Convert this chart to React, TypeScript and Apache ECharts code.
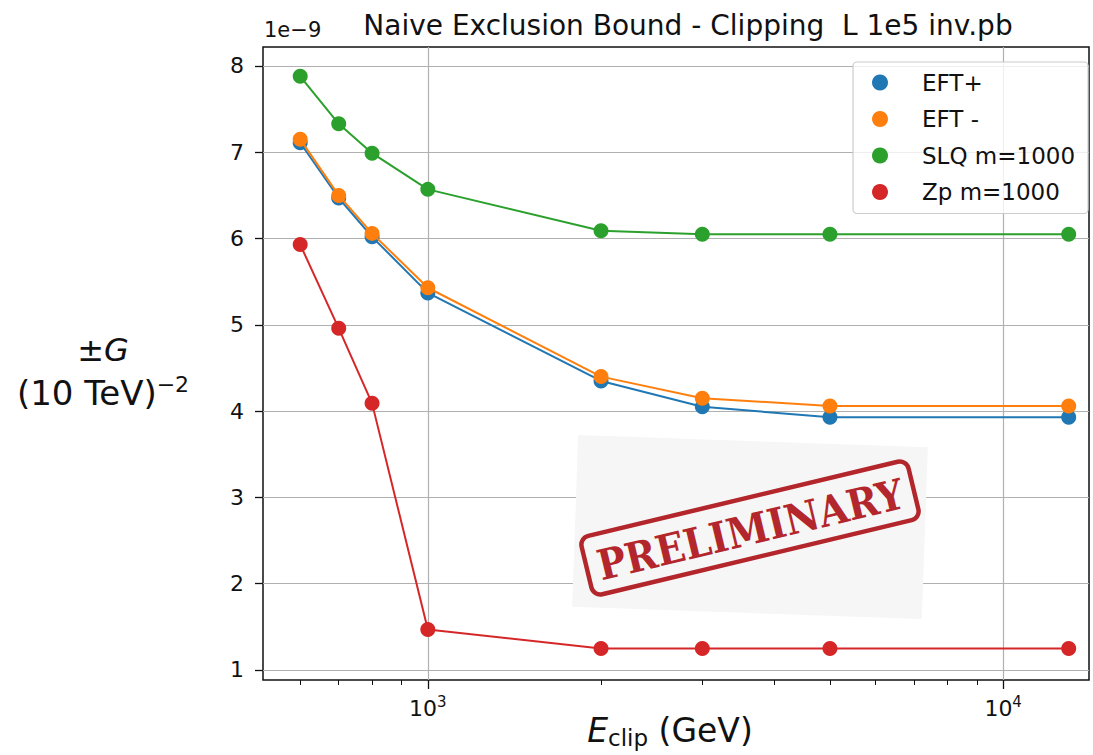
import React, { useEffect, useRef } from 'react';
import * as echarts from 'echarts';

// ---- data (values in units of 1e-9) ----
const energies = [600, 700, 800, 1000, 2000, 3000, 5000, 13000];
const eftPlus = [7.11, 6.47, 6.02, 5.37, 4.35, 4.05, 3.93, 3.93];
const eftMinus = [7.15, 6.5, 6.06, 5.43, 4.4, 4.15, 4.06, 4.06];
const slq = [7.88, 7.33, 6.99, 6.57, 6.09, 6.05, 6.05, 6.05];
const zp = [5.93, 4.96, 4.09, 1.47, 1.25, 1.25, 1.25, 1.25];
const seriesNames = ['EFT+', 'EFT -', 'SLQ m=1000', 'Zp m=1000'];
const seriesValues = [eftPlus, eftMinus, slq, zp];
const colors = ['#1f77b4', '#ff7f0e', '#2ca02c', '#d62728'];
const yTicks = [1, 2, 3, 4, 5, 6, 7, 8];
const xMajorTicks = [1000, 10000];
const xMinorTicks = [600, 700, 800, 900, 2000, 3000, 4000, 5000, 6000, 7000, 8000, 9000];
const titleText = 'Naive Exclusion Bound - Clipping  L 1e5 inv.pb';

const X_MIN = 517;
const X_MAX = 14100;
const Y_MIN = 0.884;
const Y_MAX = 8.22;

export default function App() {
  const ref = useRef<HTMLDivElement>(null);
  useEffect(() => {
    if (!ref.current) return;
    const chart = echarts.init(ref.current, null, { renderer: 'svg' });
    const font = 'DejaVu Sans';
    const series: any[] = seriesNames.map((name, i) => ({
      name,
      type: 'line',
      data: energies.map((e, j) => [e, seriesValues[i][j]]),
      symbol: 'circle',
      symbolSize: 15,
      showSymbol: true,
      lineStyle: { color: colors[i], width: 2 },
      itemStyle: { color: colors[i] },
      z: 3 + i,
    }));
    chart.setOption({
      animation: false,
      backgroundColor: '#fff',
      title: {
        text: titleText,
        left: 683,
        textAlign: 'center',
        top: 6,
        textStyle: { fontFamily: font, fontWeight: 'normal', fontSize: 28, color: '#111' },
      },
      legend: {
        data: seriesNames,
        orient: 'vertical',
        left: 853,
        top: 62,
        icon: 'circle',
        itemWidth: 30,
        itemHeight: 16,
        itemGap: 13.5,
        padding: [9, 13, 10, 19],
        backgroundColor: 'rgba(255,255,255,0.8)',
        borderColor: '#cccccc',
        borderWidth: 1.2,
        borderRadius: 4,
        textStyle: { fontFamily: font, fontSize: 23, color: '#111', lineHeight: 23, padding: [0, 0, 0, 22] },
      },
      grid: {
        left: 263,
        top: 47,
        right: 4,
        bottom: 75,
        show: true,
        borderColor: '#111',
        borderWidth: 1.5,
        backgroundColor: 'transparent',
      },
      xAxis: [
        {
          type: 'log',
          logBase: 10,
          min: X_MIN,
          max: X_MAX,
          position: 'bottom',
          axisLine: { show: false },
          axisTick: { show: true, customValues: xMajorTicks, length: 9, lineStyle: { color: '#111', width: 1.3 } },
          axisLabel: {
            customValues: xMajorTicks,
            margin: 14,
            fontFamily: font,
            fontSize: 22,
            color: '#111',
            formatter: (v: number) => '10{sup|' + Math.round(Math.log10(v)) + '}',
            rich: {
              sup: { fontSize: 15, lineHeight: 28, verticalAlign: 'top', fontFamily: font, color: '#111' },
            },
            lineHeight: 28,
          },
          splitLine: { show: true, lineStyle: { color: '#b0b0b0', width: 1.2 } },
        },
        {
          type: 'log',
          logBase: 10,
          min: X_MIN,
          max: X_MAX,
          position: 'bottom',
          axisLine: { show: false },
          axisTick: { show: true, customValues: xMinorTicks, length: 5, lineStyle: { color: '#111', width: 1 } },
          axisLabel: { show: false },
          splitLine: { show: false },
        },
      ],
      yAxis: {
        type: 'value',
        min: Y_MIN,
        max: Y_MAX,
        axisLine: { show: false },
        axisTick: { show: true, customValues: yTicks, length: 8, lineStyle: { color: '#111', width: 1.3 } },
        axisLabel: { customValues: yTicks, margin: 19, fontFamily: font, fontSize: 22, color: '#111' },
        splitLine: { show: true, lineStyle: { color: '#b0b0b0', width: 1.2 } },
      },
      graphic: [
        {
          type: 'text',
          left: 264,
          top: 19,
          style: { text: '1e\u22129', fontFamily: font, fontSize: 21, fill: '#111' },
        },
        {
          type: 'text',
          x: 103,
          y: 350,
          style: {
            text: '\u00b1{i|G}',
            fontFamily: font,
            fontSize: 32,
            fill: '#111',
            align: 'center',
            verticalAlign: 'middle',
            rich: { i: { fontStyle: 'italic', fontSize: 32, fontFamily: font } },
          },
        },
        {
          type: 'text',
          x: 103,
          y: 393,
          style: {
            text: '(10 TeV){sup|\u22122}',
            fontFamily: font,
            fontSize: 34,
            fill: '#111',
            align: 'center',
            verticalAlign: 'middle',
            lineHeight: 40,
            rich: { sup: { fontSize: 22, lineHeight: 22, verticalAlign: 'top', fontFamily: font } },
          },
        },
        {
          type: 'text',
          x: 670,
          y: 730,
          style: {
            text: '{i|E}{sub|clip} (GeV)',
            fontFamily: font,
            fontSize: 33,
            fill: '#111',
            align: 'center',
            verticalAlign: 'middle',
            lineHeight: 38,
            rich: {
              i: { fontStyle: 'italic', fontSize: 33, lineHeight: 38, fontFamily: font },
              sub: { fontSize: 23, lineHeight: 23, verticalAlign: 'bottom', fontFamily: font },
            },
          },
        },
        {
          type: 'rect',
          x: 750,
          y: 527,
          rotation: -0.035,
          z: 50,
          shape: { x: -175, y: -86, width: 350, height: 172 },
          style: { fill: '#f6f6f6' },
        },
        {
          type: 'group',
          x: 750,
          y: 528,
          rotation: 0.235,
          z: 51,
          children: [
            {
              type: 'rect',
              z: 51,
              shape: { x: -168, y: -30, width: 336, height: 60, r: 9 },
              style: { fill: 'none', stroke: '#b3262c', lineWidth: 4.5 },
            },
            {
              type: 'text',
              z: 52,
              x: 0,
              y: 2,
              style: {
                text: 'PRELIMINARY',
                fontFamily: 'DejaVu Serif Condensed',
                fontWeight: 'bold',
                fontSize: 42,
                fill: '#b3262c',
                align: 'center',
                verticalAlign: 'middle',
              },
            },
          ],
        },
      ],
      series,
    });
    return () => chart.dispose();
  }, []);
  return <div ref={ref} style={{ position: 'fixed', left: 0, top: 0, width: 1093, height: 755 }} />;
}
